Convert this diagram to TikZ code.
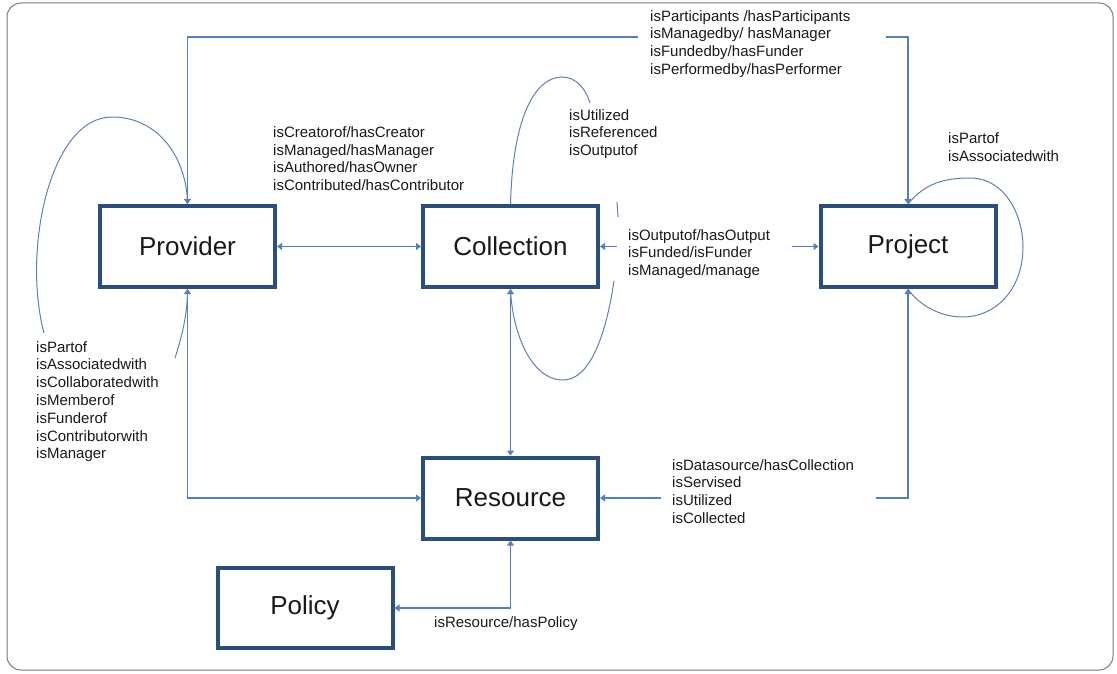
\documentclass[tikz,border=0pt]{standalone}
\usepackage{fontspec}
\setmainfont{Liberation Sans}
\usetikzlibrary{arrows.meta}
\definecolor{boxc}{RGB}{44,78,125}
\definecolor{connc}{RGB}{84,128,188}
\definecolor{loopc}{RGB}{96,128,176}
\definecolor{framec}{RGB}{110,122,140}
\definecolor{txtc}{RGB}{25,25,25}
\begin{document}
\begin{tikzpicture}[x=1pt,y=-1pt,
  entity/.style={draw=boxc, line width=4pt, fill=white, minimum width=175pt, minimum height=81pt,
    font=\fontsize{26}{30}\selectfont, text=txtc, inner sep=0pt},
  conn/.style={draw=connc, line width=1.2pt, >={Triangle[length=5pt,width=7pt]}},
  selfloop/.style={draw=loopc, line width=1pt},
  rel/.style={anchor=north west, inner sep=0pt, align=left,
    font=\fontsize{15}{17.8}\selectfont, text=txtc}]
\useasboundingbox (0,0) rectangle (1117,674);
\draw[framec, line width=1pt, rounded corners=14pt] (7,3) rectangle (1113,670);

% entities
\node[entity] (prov) at (187.5,246.5) {Provider};
\node[entity] (coll) at (510.5,246.5) {Collection};
\node[entity] (proj) at (908,246.5) {Project};
\node[entity] (res) at (510.5,498) {Resource};
\node[entity, minimum height=80pt] (pol) at (305,608) {Policy};

% free ends of interrupted connectors
\coordinate (tl1) at (638,37);
\coordinate (tl2) at (886,37);
\coordinate (co1) at (617,246.5);
\coordinate (co2) at (792,246.5);
\coordinate (pr1) at (876,498);
\coordinate (pr2) at (661,498);
\coordinate (pla) at (44,333);
\coordinate (plb) at (175,358);
\coordinate (cla) at (590,103);
\coordinate (clb) at (617,202);
\coordinate (clc) at (618,217);
\coordinate (cld) at (614,281);

% connectors
\draw[conn,<->] (prov.east) -- (coll.west);
\draw[conn,<-] (prov.north) |- (tl1);
\draw[conn,->] (tl2) -| (proj.north);
\draw[conn,<-] (coll.east) -- (co1);
\draw[conn,->] (co2) -- (proj.west);
\draw[conn,<->] (coll.south) -- (res.north);
\draw[conn,<->] (prov.south) |- (res.west);
\draw[conn,<-] (proj.south) |- (pr1);
\draw[conn,->] (pr2) -- (res.east);
\draw[conn,<->] (res.south) |- (pol.east);

% self loops
\draw[selfloop] (pla) .. controls (22,250) and (50,117) .. (112,117)
  .. controls (160,117) and (187,160) .. (prov.north);
\draw[selfloop] (plb) .. controls (184,330) and (187.5,310) .. (prov.south);
\draw[selfloop] (coll.north) .. controls (513,110) and (538,77) .. (562,77)
  .. controls (577,77) and (586,90) .. (cla);
\draw[selfloop] (clb) -- (clc);
\draw[selfloop] (cld) .. controls (606,335) and (590,380) .. (563,380)
  .. controls (530,380) and (512,330) .. (coll.south);
\draw[selfloop] (proj.north) .. controls (925,183) and (945,178) .. (970,178)
  .. controls (1005,178) and (1023,215) .. (1023,247)
  .. controls (1023,290) and (995,317) .. (963,317)
  .. controls (935,317) and (915,300) .. (proj.south);

% relation labels
\node[rel] (lTop) at (650,10) {isParticipants /hasParticipants\\isManagedby/ hasManager\\isFundedby/hasFunder\\isPerformedby/hasPerformer};
\node[rel] (lCre) at (273,126.3) {isCreatorof/hasCreator\\isManaged/hasManager\\isAuthored/hasOwner\\isContributed/hasContributor};
\node[rel] (lUti) at (569,109) {isUtilized\\isReferenced\\isOutputof};
\node[rel] (lPar) at (948,132.5) {isPartof\\isAssociatedwith};
\node[rel] (lOut) at (628,229) {isOutputof/hasOutput\\isFunded/isFunder\\isManaged/manage};
\node[rel] (lPro) at (36,341) {isPartof\\isAssociatedwith\\isCollaboratedwith\\isMemberof\\isFunderof\\isContributorwith\\isManager};
\node[rel] (lDat) at (672,459) {isDatasource/hasCollection\\isServised\\isUtilized\\isCollected};
\node[rel] (lPol) at (434,616) {isResource/hasPolicy};
\end{tikzpicture}
\end{document}
